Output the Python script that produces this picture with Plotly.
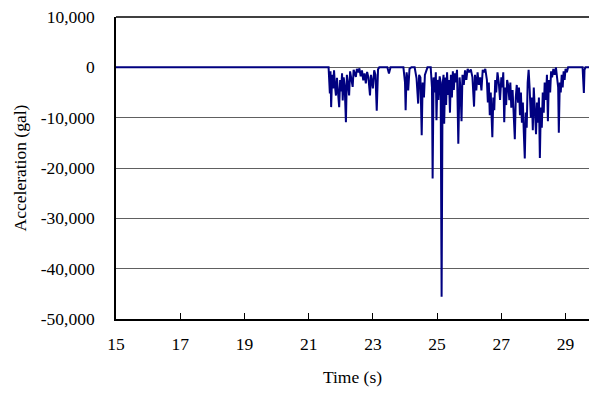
import plotly.graph_objects as go

# Acceleration record: time (s) and acceleration (gal)
time_s = [
    15.00, 21.62, 21.66, 21.68, 21.70, 21.73, 21.76, 21.79, 21.82, 21.85,
    21.88, 21.91, 21.95, 21.98, 22.01, 22.04, 22.06, 22.09, 22.12, 22.16,
    22.19, 22.22, 22.26, 22.29, 22.33, 22.37, 22.40, 22.44, 22.47, 22.50,
    22.55, 22.58, 22.62, 22.66, 22.70, 22.74, 22.78, 22.82, 22.86, 22.91,
    22.94, 22.97, 23.00, 23.04, 23.08, 23.12, 23.16, 23.20, 23.45, 23.50,
    23.55, 23.95, 24.00, 24.02, 24.05, 24.08, 24.10, 24.14, 24.20, 24.30,
    24.36, 24.41, 24.44, 24.48, 24.52, 24.55, 24.59, 24.62, 24.66, 24.70,
    24.80, 24.84, 24.86, 24.89, 24.93, 24.96, 24.98, 25.01, 25.04, 25.08,
    25.11, 25.14, 25.17, 25.20, 25.22, 25.25, 25.28, 25.31, 25.34, 25.37,
    25.40, 25.43, 25.46, 25.49, 25.52, 25.55, 25.58, 25.62, 25.66, 25.70,
    25.73, 25.76, 25.79, 25.83, 25.87, 25.91, 25.95, 26.00, 26.05, 26.10,
    26.15, 26.18, 26.22, 26.26, 26.30, 26.34, 26.38, 26.42, 26.46, 26.50,
    26.55, 26.58, 26.61, 26.64, 26.67, 26.72, 26.75, 26.78, 26.81, 26.84,
    26.88, 26.92, 26.96, 27.00, 27.03, 27.06, 27.09, 27.12, 27.15, 27.18,
    27.21, 27.25, 27.28, 27.31, 27.35, 27.38, 27.42, 27.45, 27.48, 27.52,
    27.55, 27.58, 27.61, 27.64, 27.67, 27.70, 27.73, 27.76, 27.79, 27.82,
    27.85, 27.88, 27.92, 27.95, 27.98, 28.01, 28.04, 28.08, 28.11, 28.14,
    28.17, 28.20, 28.23, 28.26, 28.29, 28.32, 28.35, 28.39, 28.42, 28.45,
    28.48, 28.52, 28.55, 28.58, 28.62, 28.66, 28.70, 28.74, 28.77, 28.79,
    28.82, 28.85, 28.88, 28.91, 28.94, 28.97, 29.00, 29.04, 29.08, 29.53,
    29.55, 29.57, 29.59, 29.62, 29.75,
]
accel_gal = [
    0, 0, -5200, -800, -7900, -1500, -4200, -600, -3800, -5600,
    -2100, -4500, -7900, -2500, -4800, -1200, -6600, -2000, -3500, -10900,
    -1500, -3000, -5600, -800, -2400, -3900, -500, -1200, -1900, -300,
    -1000, -200, -1800, -600, -2600, -1200, -3200, -900, -2000, -5600,
    -1500, -2800, -4200, -600, -1500, -8600, -400, 0, 0, -1200,
    0, 0, -3000, -8500, -1000, -2500, -4600, -300, 0, 0,
    -2200, -7200, -1500, -2000, -13500, -3000, -6000, -1500, -800, 0,
    0, -4000, -22100, -2000, -5000, -1000, -10500, -2500, -6500, -1800,
    -3000, -45600, -3500, -1500, -11200, -2000, -7500, -1000, -5500, -2500,
    -9000, -1500, -6000, -800, -4500, -1200, -3000, -500, -15200, -2000,
    -4500, -10700, -1500, -3500, -600, -2500, -300, -1000, -400, -2000,
    -7800, -1500, -4600, -1000, -3500, -2000, -4600, -500, -1000, -300,
    -2500, -7000, -3000, -9500, -5000, -13900, -6000, -8500, -2500, -5000,
    -1000, -3000, -6500, -2000, -4000, -1000, -10900, -4000, -7500, -2500,
    -3500, -6500, -3000, -8000, -4500, -9000, -14300, -6000, -3500, -7000,
    -4000, -9500, -5000, -11000, -7000, -13000, -18100, -9000, -12000, -3000,
    -500, -4000, -10000, -6000, -12500, -4000, -8000, -13300, -7000, -11000,
    -6000, -18000, -8000, -12000, -5000, -9000, -3000, -6500, -1500, -10700,
    -2500, -5000, -800, -2000, -300, -1500, 0, -2500, -4000, -13000,
    -3000, -5000, -1500, -4000, -800, -2500, -300, -1000, 0, 0,
    -2000, -5100, -500, 0, 0,
]

x_ticks = [15, 17, 19, 21, 23, 25, 27, 29]
y_ticks = [10000, 0, -10000, -20000, -30000, -40000, -50000]
y_tick_labels = ["10,000", "0", "-10,000", "-20,000", "-30,000", "-40,000", "-50,000"]

FONT = "Times New Roman"

fig = go.Figure(
    go.Scatter(
        x=time_s,
        y=accel_gal,
        mode="lines",
        line=dict(color="#000080", width=2),
        hoverinfo="skip",
    )
)

fig.update_layout(
    width=589,
    height=394,
    margin=dict(l=116, r=0, t=17, b=75),
    paper_bgcolor="white",
    plot_bgcolor="white",
    showlegend=False,
    font=dict(family=FONT, size=17.5, color="black"),
    shapes=[
        dict(type="line", xref="paper", yref="paper", x0=0, x1=1, y0=1, y1=1,
             line=dict(color="black", width=1.5)),
    ],
)

fig.update_xaxes(
    range=[15, 29.73],
    tickvals=x_ticks,
    ticktext=[str(v) for v in x_ticks],
    ticks="inside",
    ticklen=6,
    tickwidth=1,
    tickcolor="black",
    showline=True,
    linecolor="black",
    linewidth=1.5,
    showgrid=False,
    zeroline=False,
    ticklabelstandoff=8,
    title=dict(text="Time (s)", standoff=18, font=dict(family=FONT, size=17.5)),
)

fig.update_yaxes(
    range=[-50000, 10000],
    tickvals=y_ticks,
    ticktext=y_tick_labels,
    ticks="",
    showline=True,
    linecolor="black",
    linewidth=1.5,
    showgrid=True,
    gridcolor="#606060",
    gridwidth=1,
    zeroline=False,
    ticklabelstandoff=16,
    title=dict(text="Acceleration (gal)", standoff=10, font=dict(family=FONT, size=17.5)),
)

fig.write_html("out.html")
